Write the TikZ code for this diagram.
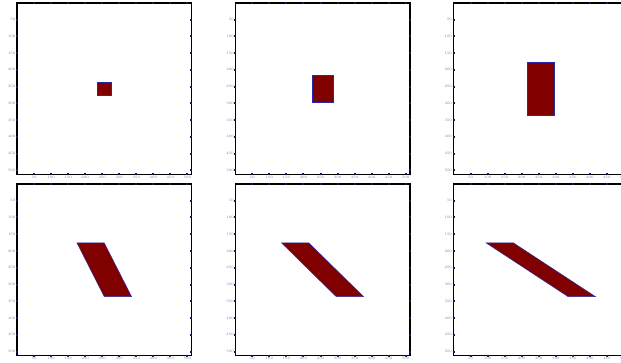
\documentclass[tikz,border=0pt]{standalone}
\definecolor{fillred}{RGB}{128,0,0}
\definecolor{edgeblue}{RGB}{40,40,170}
\definecolor{tickc}{RGB}{20,20,100}
\definecolor{labc}{RGB}{130,130,140}
\tikzset{
  frame/.style={line width=1.5pt, draw=black},
  tickmark/.style={fill=tickc, inner sep=0pt, minimum size=2pt},
  lab/.style={font=\fontsize{3.6}{3.6}\selectfont, text=labc, inner sep=0.6pt},
  shapefill/.style={fill=fillred, draw=edgeblue, line width=0.5pt}
}
\newcommand\plotpanel[3]{%
\begin{scope}[shift={(#1pt,-#2pt)}, x={(0.3408pt,0)}, y={(0,-0.335pt)}]
  \path[shapefill] #3;
  \draw[frame] (0,0) rectangle (512,512);
  \foreach \v in {50,100,...,500} {
    \node[tickmark] at (\v,0) {};
    \node[tickmark] at (\v,512) {};
    \node[tickmark] at (0,\v) {};
    \node[tickmark] at (512,\v) {};
    \node[lab, below=0.8pt] at (\v,512) {\v};
    \node[lab, left=0.8pt] at (0,\v) {\v};
  }
\end{scope}}
\begin{document}
\begin{tikzpicture}
\useasboundingbox (0,0) rectangle (621pt,-363pt);
\clip (0,0) rectangle (621pt,-363pt);
\fill[white] (0,0) rectangle (621pt,-363pt);
\plotpanel{17}{2.8}{(236,236) rectangle (276,276)}
\plotpanel{235.3}{2.8}{(226,216) rectangle (286,296)}
\plotpanel{453.5}{2.8}{(216,176) rectangle (296,336)}
\plotpanel{17}{184}{(176,176) -- (256,176) -- (336,336) -- (256,336) -- cycle}
\plotpanel{235.3}{184}{(136,176) -- (216,176) -- (376,336) -- (296,336) -- cycle}
\plotpanel{453.5}{184}{(96,176) -- (176,176) -- (416,336) -- (336,336) -- cycle}
\end{tikzpicture}
\end{document}
